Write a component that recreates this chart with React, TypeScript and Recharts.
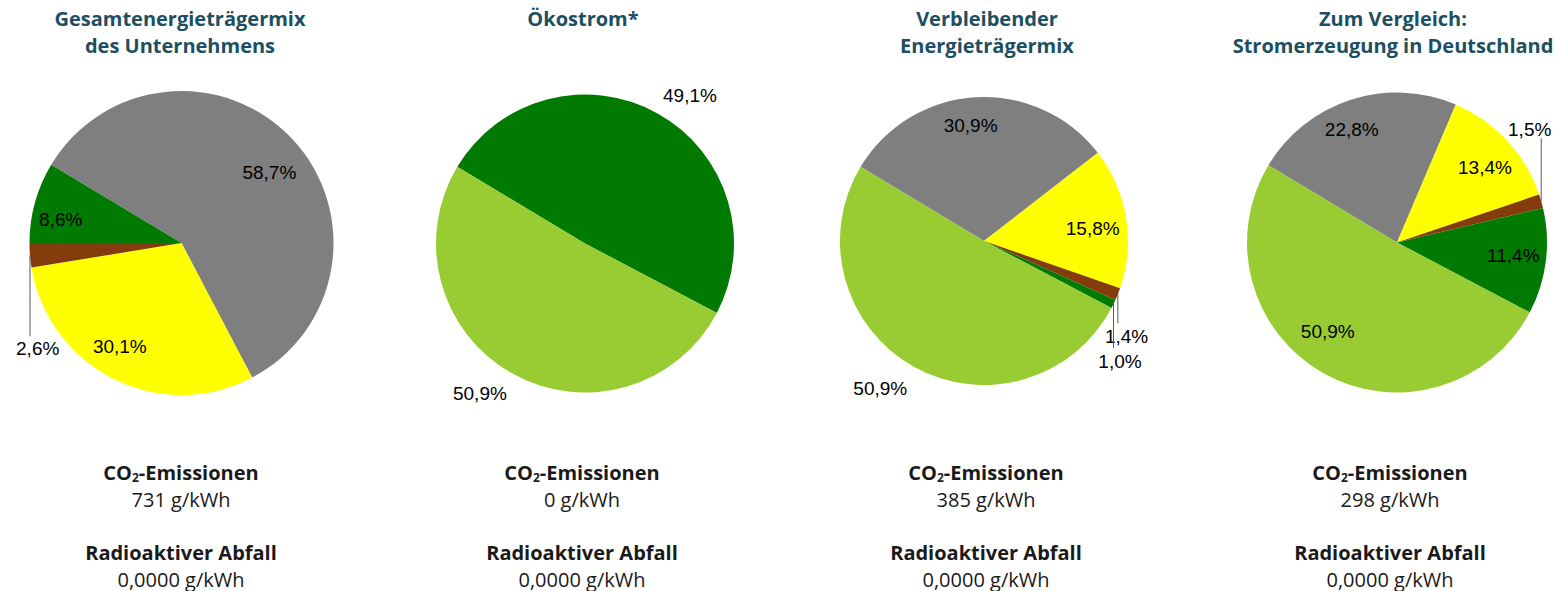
import { PieChart, Pie, Cell } from 'recharts';

// energy sources, same order in every pie (clockwise from the upper left)
const SOURCES = [
  'Fossile Energieträger',
  'Kernenergie',
  'Sonstige',
  'Erneuerbare Energien',
  'Erneuerbare Energien (EEG)',
];
const SOURCE_COLORS = ['#7f7f7f', '#ffff00', '#843c0c', '#007a00', '#99cc33'];

const MIX_UNTERNEHMEN = [58.7, 30.1, 2.6, 8.6, 0];
const MIX_OEKOSTROM = [0, 0, 0, 49.1, 50.9];
const MIX_VERBLEIBEND = [30.9, 15.8, 1.4, 1.0, 50.9];
const MIX_DEUTSCHLAND = [22.8, 13.4, 1.5, 11.4, 50.9];

const TITLES = [
  ['Gesamtenergieträgermix', 'des Unternehmens'],
  ['Ökostrom*'],
  ['Verbleibender', 'Energieträgermix'],
  ['Zum Vergleich:', 'Stromerzeugung in Deutschland'],
];
const CO2_G_KWH = [731, 0, 385, 298];
const WASTE_G_KWH = [0, 0, 0, 0];

const MIXES = [MIX_UNTERNEHMEN, MIX_OEKOSTROM, MIX_VERBLEIBEND, MIX_DEUTSCHLAND];

// layout of each pie
const PIES = [
  { cx: 181.5, cy: 243, r: 152 },
  { cx: 585, cy: 243.5, r: 149 },
  { cx: 984, cy: 241, r: 144 },
  { cx: 1397, cy: 242.5, r: 150 },
];
const TITLE_X = [180, 583, 987, 1393];
const INFO_X = [181, 582, 986, 1390];

// label placement per slice ("best fit" like the original):
// k = fraction of radius, da = angle shift; leader = vertical leader line length
type Place = { k?: number; da?: number; leader?: number; tx?: number; ty?: number } | null;
const PLACES: Place[][] = [
  [{ k: 0.74, da: -4.7 }, { k: 0.79, da: -4.4 }, { leader: 81, tx: 7.7, ty: 12.5 }, { k: 0.81, da: 4.4 }, null],
  [null, null, null, { k: 1.22, da: -5.9 }, { k: 1.23, da: -5.6 }],
  [{ k: 0.81, da: 3.2 }, { k: 0.76, da: -2.6 }, { leader: 29, tx: 8.7, ty: 13.7 }, { leader: 44, tx: 6.5, ty: 13.7 }, { k: 1.25, da: -5.8 }],
  [{ k: 0.81, da: 3.9 }, { k: 0.77, da: -2.4 }, { leader: -63, tx: -11.5, ty: -9 }, { k: 0.78, da: 1 }, { k: 0.75, da: -8.6 }],
];

const START = 149;
const RAD = Math.PI / 180;
const TITLE_COLOR = '#1c4f62';
const TEXT_FONT = '"Open Sans", "Noto Sans", sans-serif';
const LABEL_FONT = '"Liberation Sans", Arial, sans-serif';

const fmtPct = (v: number) => v.toFixed(1).replace('.', ',') + '%';

function makeLabel(places: Place[]) {
  return (p: any) => {
    const pl = places[p.index];
    if (!pl || !p.value) return null;
    const txt = fmtPct(p.value);
    const textProps = {
      textAnchor: 'middle' as const,
      dominantBaseline: 'central' as const,
      fontFamily: LABEL_FONT,
      fontSize: 19,
      fill: '#000',
    };
    if (pl.leader !== undefined) {
      const ex = p.cx + p.outerRadius * Math.cos(p.midAngle * RAD);
      const ey = p.cy - p.outerRadius * Math.sin(p.midAngle * RAD);
      const ly = ey + pl.leader;
      return (
        <g>
          <line x1={ex} y1={ey} x2={ex} y2={ly} stroke="#595959" strokeWidth={1} />
          <text x={ex + (pl.tx || 0)} y={ly + (pl.ty || 0)} {...textProps}>{txt}</text>
        </g>
      );
    }
    const a = (p.midAngle + (pl.da || 0)) * RAD;
    const rr = p.outerRadius * (pl.k || 0.75);
    return (
      <text x={p.cx + rr * Math.cos(a)} y={p.cy - rr * Math.sin(a)} {...textProps}>
        {txt}
      </text>
    );
  };
}

export default function App() {
  return (
    <div style={{ position: 'absolute', left: 0, top: 0, width: 1555, height: 591, background: '#fff' }}>
      <PieChart
        width={1555}
        height={591}
        margin={{ top: 0, right: 0, bottom: 0, left: 0 }}
        style={{ position: 'absolute', left: 0, top: 0 }}
      >
        {MIXES.map((mix, m) => (
          <Pie
            key={m}
            data={SOURCES.map((name, i) => ({ name, value: mix[i] }))}
            dataKey="value"
            nameKey="name"
            cx={PIES[m].cx}
            cy={PIES[m].cy}
            outerRadius={PIES[m].r}
            startAngle={START}
            endAngle={START - 360}
            stroke="none"
            labelLine={false}
            label={makeLabel(PLACES[m])}
            isAnimationActive={false}
          >
            {SOURCES.map((s, i) => (
              <Cell key={s} fill={SOURCE_COLORS[i]} />
            ))}
          </Pie>
        ))}
      </PieChart>

      {TITLES.map((lines, m) => (
        <div
          key={'t' + m}
          style={{
            position: 'absolute', left: TITLE_X[m] - 200, top: 5, width: 400,
            textAlign: 'center', fontFamily: TEXT_FONT, fontWeight: 700,
            fontSize: 20, lineHeight: '27px', color: TITLE_COLOR,
          }}
        >
          {lines.map((l) => <div key={l}>{l}</div>)}
        </div>
      ))}

      {CO2_G_KWH.map((co2, m) => (
        <div
          key={'i' + m}
          style={{
            position: 'absolute', left: INFO_X[m] - 200, top: 459, width: 400,
            textAlign: 'center', fontFamily: TEXT_FONT, fontSize: 20,
            lineHeight: '27px', color: '#1a1a1a',
          }}
        >
          <div style={{ fontWeight: 700 }}>
            CO<sub style={{ fontSize: 12, verticalAlign: -2, lineHeight: 0 }}>2</sub>-Emissionen
          </div>
          <div>{co2} g/kWh</div>
          <div style={{ fontWeight: 700, marginTop: 26 }}>Radioaktiver Abfall</div>
          <div>{WASTE_G_KWH[m].toFixed(4).replace('.', ',')} g/kWh</div>
        </div>
      ))}
    </div>
  );
}
